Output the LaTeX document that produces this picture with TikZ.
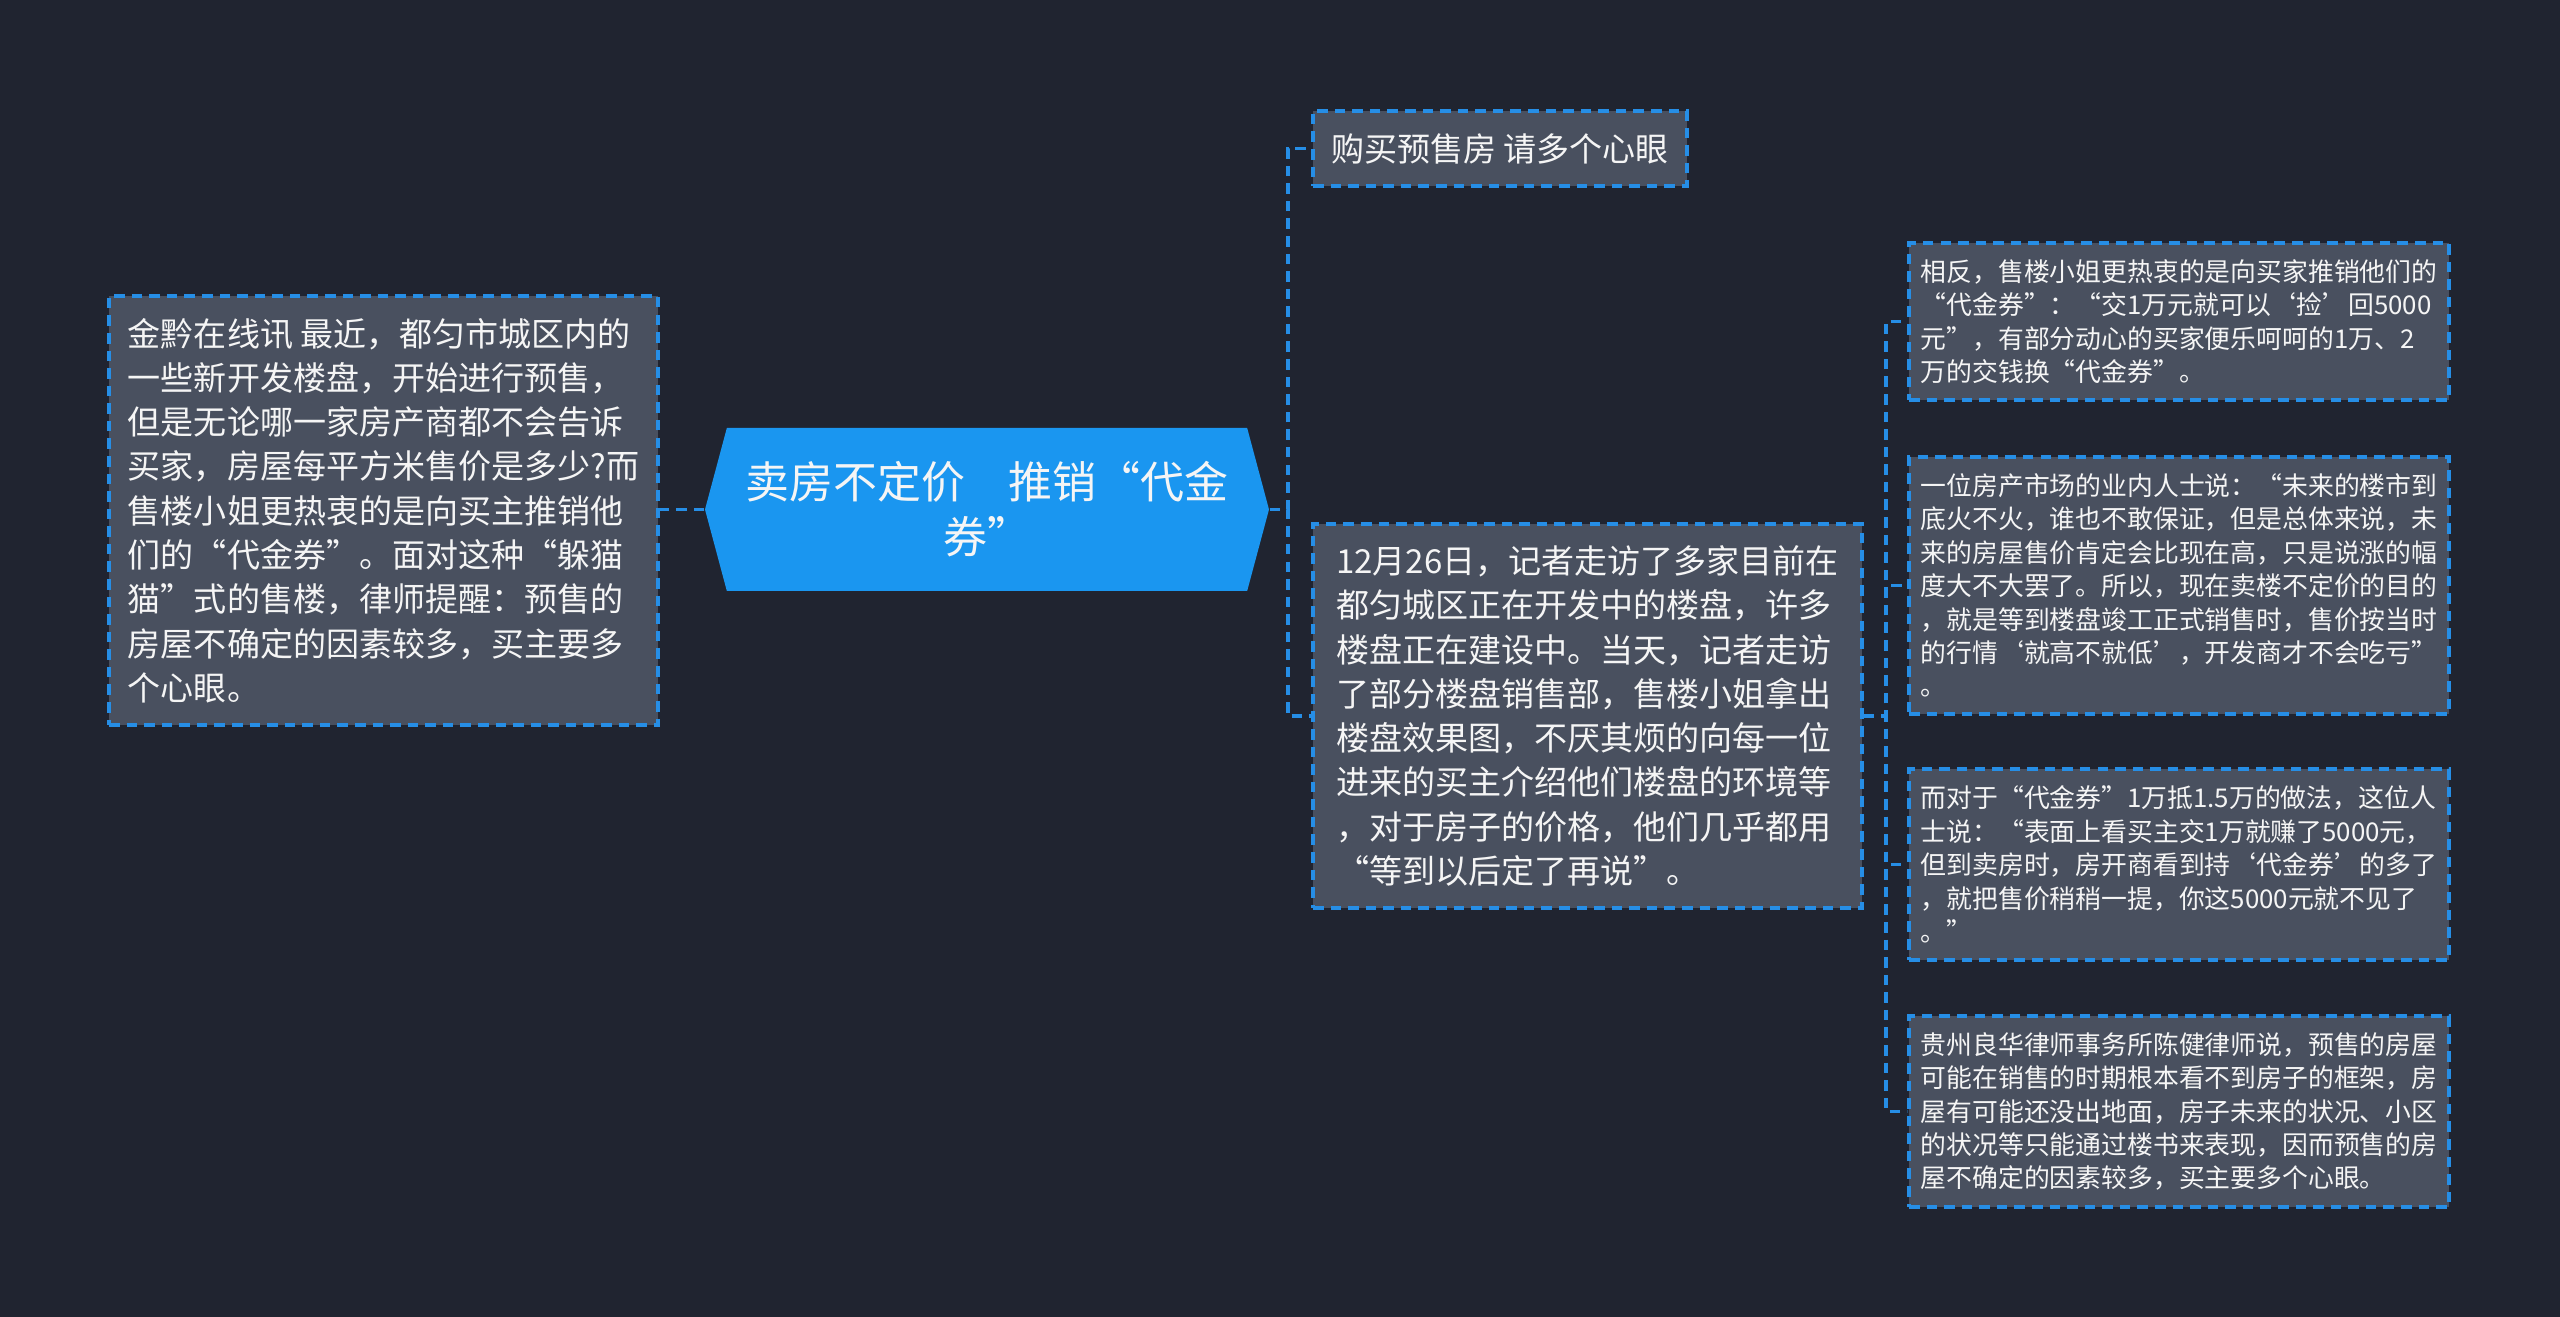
\documentclass[tikz,border=0pt]{standalone}
\usepackage{fontspec}
\setmainfont{Noto Sans CJK SC}
\usetikzlibrary{shapes.symbols}

\definecolor{mm-BackColor}{RGB}{32,36,48}
\definecolor{mm-TopicColor}{RGB}{26,150,240}
\definecolor{mm-BoxColor}{RGB}{73,80,95}
\definecolor{mm-LineColor}{RGB}{38,142,230}
\definecolor{mm-TextColor}{RGB}{245,245,245}
\tikzstyle{mm-box-base}=[rectangle,
                         draw={mm-LineColor},
                         fill={mm-BoxColor},
                         line width=0.9pt,
                         dash pattern=on 3pt off 2pt,
                         text={mm-TextColor},
                         align=left,
                         inner sep=0pt,
                        ]
\tikzstyle{mm-big}=[mm-box-base,
                    font=\fontsize{9.4}{12.6}\selectfont,
                    minimum width=5.49cm]
\tikzstyle{mm-small}=[mm-box-base,
                      font=\fontsize{7.35}{9.5}\selectfont,
                      minimum width=5.40cm]
\tikzstyle{mm-topic}=[signal, signal to=west and east,
                      signal pointer angle=150,
                      fill={mm-TopicColor},
                      text={mm-TextColor},
                      align=center,
                      inner sep=0pt,
                      font=\fontsize{12.5}{15.6}\selectfont,
                      minimum width=5.64cm, minimum height=1.63cm]
\tikzstyle{mm-link}=[draw={mm-LineColor}, line width=0.9pt,
                     dash pattern=on 3pt off 2pt]

\begin{document}
\begin{tikzpicture}
    % Background
    % --------------------------------------------------------------------------
    \fill[mm-BackColor] (0, 0) rectangle (25.6, -13.17);
    \useasboundingbox (0, 0) rectangle (25.6, -13.17);

    % Topic and left note
    % --------------------------------------------------------------------------
    \node at (9.87, -5.095) (topic) [mm-topic] {卖房不定价　推销“代金\\券”};

    \node at (3.835, -5.105) (intro) [mm-big, minimum height=4.29cm] {金黔在线讯 最近，都匀市城区内的\\
                                                                 一些新开发楼盘，开始进行预售，\\
                                                                 但是无论哪一家房产商都不会告诉\\
                                                                 买家，房屋每平方米售价是多少?而\\
                                                                 售楼小姐更热衷的是向买主推销他\\
                                                                 们的“代金券”。面对这种“躲猫\\
                                                                 猫”式的售楼，律师提醒：预售的\\
                                                                 房屋不确定的因素较多，买主要多\\
                                                                 个心眼。};

    % Right branches
    % ------------------------------------------------------------------------
    \node at (15.0, -1.485) (buy_tip) [mm-big, minimum width=3.74cm, minimum height=0.75cm] {购买预售房 请多个心眼};

    \node at (15.875, -7.16) (visit) [mm-big, minimum height=3.84cm] {12月26日，记者走访了多家目前在\\
                                                                 都匀城区正在开发中的楼盘，许多\\
                                                                 楼盘正在建设中。当天，记者走访\\
                                                                 了部分楼盘销售部，售楼小姐拿出\\
                                                                 楼盘效果图，不厌其烦的向每一位\\
                                                                 进来的买主介绍他们楼盘的环境等\\
                                                                 ，对于房子的价格，他们几乎都用\\
                                                                 “等到以后定了再说”。};

    % ------------------------------------------------------------------------
    \node at (21.79, -3.215) (detail_1) [mm-small, minimum height=1.57cm] {相反，售楼小姐更热衷的是向买家推销他们的\\
                                                                 “代金券”：“交1万元就可以‘捡’回5000\\
                                                                 元”，有部分动心的买家便乐呵呵的1万、2\\
                                                                 万的交钱换“代金券”。};
    \node at (21.79, -5.855) (detail_2) [mm-small, minimum height=2.57cm] {一位房产市场的业内人士说：“未来的楼市到\\
                                                                 底火不火，谁也不敢保证，但是总体来说，未\\
                                                                 来的房屋售价肯定会比现在高，只是说涨的幅\\
                                                                 度大不大罢了。所以，现在卖楼不定价的目的\\
                                                                 ，就是等到楼盘竣工正式销售时，售价按当时\\
                                                                 的行情‘就高不就低’，开发商才不会吃亏”\\
                                                                 。};
    \node at (21.79, -8.645) (detail_3) [mm-small, minimum height=1.91cm] {而对于“代金券”1万抵1.5万的做法，这位人\\
                                                                 士说：“表面上看买主交1万就赚了5000元，\\
                                                                 但到卖房时，房开商看到持‘代金券’的多了\\
                                                                 ，就把售价稍稍一提，你这5000元就不见了\\
                                                                 。”};
    \node at (21.79, -11.115) (detail_4) [mm-small, minimum height=1.91cm] {贵州良华律师事务所陈健律师说，预售的房屋\\
                                                                 可能在销售的时期根本看不到房子的框架，房\\
                                                                 屋有可能还没出地面，房子未来的状况、小区\\
                                                                 的状况等只能通过楼书来表现，因而预售的房\\
                                                                 屋不确定的因素较多，买主要多个心眼。};

    % Spines
    % --------------------------------------------------------------------------
    \coordinate (spine_1) at (12.88, 0);
    \coordinate (spine_2) at (18.86, 0);

    % Links
    % --------------------------------------------------------------------------
    \draw[mm-link] (topic.west) -- (topic.west -| intro.east);
    \draw[mm-link] (topic.east) -- (topic.east -| spine_1) |- (buy_tip.west);
    \draw[mm-link] (topic.east) -- (topic.east -| spine_1) |- (visit.west);

    \draw[mm-link] (visit.east) -- (visit.east -| spine_2) |- (detail_1.west);
    \draw[mm-link] (visit.east) -- (visit.east -| spine_2) |- (detail_2.west);
    \draw[mm-link] (visit.east) -- (visit.east -| spine_2) |- (detail_3.west);
    \draw[mm-link] (visit.east) -- (visit.east -| spine_2) |- (detail_4.west);

\end{tikzpicture}
\end{document}
